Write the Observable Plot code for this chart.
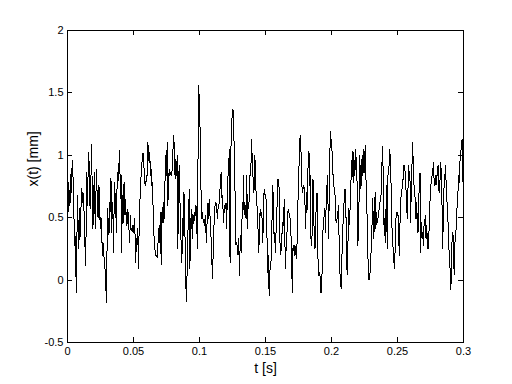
<!DOCTYPE html>
<html>
<head>
<meta charset="utf-8">
<script src="https://cdn.jsdelivr.net/npm/d3@7"></script>
<script src="https://cdn.jsdelivr.net/npm/@observablehq/plot@0.6"></script>
<style>
  html, body { margin: 0; padding: 0; background: #fff; }
  #chart { width: 512px; height: 384px; }
</style>
</head>
<body>
<div id="chart"></div>
<script>
// Displacement samples x(t) in mm, evenly spaced over 0 … 0.3 s
const xValues = [
  // 0 – 0.03 s
  0.42,0.78,0.55,0.72,0.62,0.85,0.70,0.96,0.90,0.60,0.45,0.28,0.35,-0.10,0.30,0.68,0.40,0.25,0.57,0.35,
  0.55,0.73,0.62,0.70,0.68,0.50,0.30,0.12,0.45,0.86,0.60,0.95,1.02,0.65,0.57,0.80,1.09,0.70,0.41,0.60,
  0.86,0.55,0.41,0.89,0.75,0.52,0.50,0.76,0.60,0.41,0.50,0.44,0.20,0.30,0.25,0.14,0.09,
  // 0.03 – 0.06 s
  0.05,-0.18,0.20,0.57,0.45,0.36,0.62,0.55,0.82,0.38,0.62,0.50,0.22,0.78,0.70,0.62,0.38,0.73,0.86,0.80,
  0.94,1.04,0.65,0.84,0.22,0.68,0.46,0.76,0.78,0.52,0.65,0.44,0.45,0.57,0.52,0.40,0.30,0.52,0.41,0.40,
  0.44,0.38,0.41,0.49,0.36,0.14,0.33,0.30,0.41,0.09,0.38,0.62,0.70,0.84,0.92,0.99,1.02,0.92,0.86,0.76,
  // 0.06 – 0.09 s
  0.76,0.84,0.84,1.10,1.05,0.94,1.02,0.84,0.89,0.76,0.78,0.57,0.41,0.25,0.24,0.20,0.20,0.18,0.28,0.33,
  0.44,0.30,0.54,0.12,0.54,0.46,0.62,0.46,0.57,0.86,1.00,0.84,1.10,0.60,0.76,0.89,0.84,0.86,0.84,0.86,
  0.92,1.10,1.16,0.92,0.81,0.97,0.84,1.00,0.25,0.76,0.92,0.62,0.60,0.20,0.14,0.49,0.36,0.70,0.62,0.22,
  // 0.09 – 0.12 s
  -0.05,-0.17,0.14,0.38,0.49,0.73,0.09,0.49,0.41,0.57,0.33,0.52,0.46,0.54,0.52,0.60,0.57,0.25,0.89,1.56,
  1.45,1.27,0.86,0.62,0.49,0.54,0.46,0.49,0.44,0.52,0.38,0.30,0.57,0.62,0.49,0.65,0.52,0.41,0.30,0.12,
  0.01,0.30,0.44,0.57,0.62,0.62,0.60,0.49,0.57,0.60,0.62,0.73,0.84,0.86,0.65,0.68,0.46,0.54,0.60,0.57,
  // 0.12 – 0.15 s
  0.62,0.41,0.73,0.84,0.92,1.05,0.14,0.94,1.24,1.30,1.37,1.36,1.10,1.02,0.30,0.28,0.30,0.25,0.20,0.33,
  0.04,0.25,0.36,0.22,0.52,0.49,0.84,0.52,0.62,0.57,0.49,0.84,0.41,0.62,0.57,0.73,0.86,0.84,1.13,1.00,
  0.89,0.70,0.73,1.00,0.89,0.68,0.62,0.54,0.38,0.22,0.41,0.57,0.52,0.54,0.49,0.30,0.57,0.73,0.70,0.65,
  // 0.15 – 0.18 s
  0.65,0.44,0.06,0.20,-0.05,-0.12,0.14,0.12,0.25,0.57,0.76,0.54,0.30,0.38,0.22,0.44,0.52,0.81,0.81,0.81,
  0.49,0.22,0.20,0.36,0.38,0.46,0.44,0.65,0.30,0.09,0.30,0.36,0.52,0.57,0.54,0.52,0.49,0.38,0.20,-0.10,
  0.25,0.28,0.20,0.28,0.25,0.17,0.28,0.36,0.81,0.89,1.10,1.16,1.05,0.81,0.70,0.73,0.76,0.73,0.62,0.41,
  // 0.18 – 0.21 s
  0.70,0.54,0.84,0.94,1.03,0.76,0.84,0.33,0.28,0.41,0.81,0.52,0.36,0.25,0.46,0.62,0.70,0.30,0.04,0.04,
  0.06,0.01,-0.10,-0.02,0.12,0.41,0.44,0.57,0.54,0.38,0.76,0.70,0.84,0.33,0.57,0.94,1.19,1.13,1.10,0.94,
  0.84,0.76,0.73,0.68,0.49,0.46,0.49,0.52,0.60,0.33,0.06,0.04,-0.07,0.12,0.36,0.46,0.57,0.70,0.73,0.57,
  // 0.21 – 0.24 s
  0.38,0.04,0.17,0.57,0.44,0.54,0.60,0.84,0.92,1.03,0.78,1.02,0.84,0.89,1.05,0.84,0.78,0.28,0.38,0.68,
  1.00,0.73,0.97,0.76,1.00,0.86,1.05,0.86,1.08,0.86,0.65,0.49,0.22,0.01,0.00,0.04,0.12,0.25,0.38,0.65,
  0.52,0.33,0.57,0.70,0.41,0.54,0.46,0.49,0.54,0.57,0.62,0.65,0.70,0.92,1.07,0.84,0.46,0.36,0.57,0.30,
  // 0.24 – 0.27 s
  0.76,0.25,0.84,0.87,0.94,1.05,0.81,0.76,0.44,0.30,0.25,0.14,0.09,0.30,0.49,0.54,0.52,0.54,0.38,0.20,
  0.44,0.65,0.68,0.73,0.76,0.84,0.92,0.92,0.84,0.73,0.60,0.49,0.73,0.92,0.84,0.81,0.46,0.76,0.92,1.10,
  0.89,0.76,0.73,0.60,0.49,0.62,0.46,0.38,0.62,0.78,0.86,0.22,0.46,0.36,0.38,0.28,0.44,0.46,0.52,0.33,
  // 0.27 – 0.30 s
  0.44,0.30,0.25,0.36,0.44,0.65,0.76,0.78,0.84,0.87,0.94,0.81,0.76,0.84,0.76,0.84,0.84,0.92,0.73,0.70,
  0.81,0.94,0.84,0.57,0.25,0.60,0.76,0.81,0.92,0.78,0.68,0.52,0.46,0.30,0.14,0.09,-0.08,0.06,0.36,0.38,
  0.33,0.04,0.28,0.36,0.41,0.54,0.65,0.73,0.84,0.78,1.00,1.02,1.10,1.13,0.97,0.25
];
const tStart = 0;
const tEnd = 0.3;

const xTicks = [0, 0.05, 0.1, 0.15, 0.2, 0.25, 0.3];
const yTicks = [-0.5, 0, 0.5, 1, 1.5, 2];
const xLabel = "t [s]";
const yLabel = "x(t) [mm]";

const n = xValues.length;
const data = xValues.map((v, i) => ({ t: tStart + (tEnd - tStart) * i / (n - 1), x: v }));

const W = 512, H = 384;
const mL = 67, mR = 49, mT = 30, mB = 42;
const plotW = W - mL - mR, plotH = H - mT - mB;
const tick = 5;

const chart = Plot.plot({
  width: W,
  height: H,
  marginLeft: mL,
  marginRight: mR,
  marginTop: mT,
  marginBottom: mB,
  style: { fontFamily: "'Liberation Sans', Arial, Helvetica, sans-serif", fontSize: "11px", background: "#fff", color: "#000" },
  x: { domain: [0, 0.3] },
  y: { domain: [-0.5, 2] },
  marks: [
    Plot.line(data, { x: "t", y: "x", stroke: "#000", strokeWidth: 1, shapeRendering: "crispEdges" }),
    // inward ticks on all four sides
    Plot.ruleX(xTicks, { x: d => d, insetTop: plotH - tick, stroke: "#000", shapeRendering: "crispEdges" }),
    Plot.ruleX(xTicks, { x: d => d, insetBottom: plotH - tick, stroke: "#000", shapeRendering: "crispEdges" }),
    Plot.ruleY(yTicks, { y: d => d, insetRight: plotW - tick, stroke: "#000", shapeRendering: "crispEdges" }),
    Plot.ruleY(yTicks, { y: d => d, insetLeft: plotW - tick, stroke: "#000", shapeRendering: "crispEdges" }),
    Plot.frame({ stroke: "#000", shapeRendering: "crispEdges" }),
    Plot.axisX(xTicks, { tickSize: 0, tickPadding: 5, tickFormat: d => String(d), label: null, fontSize: 11 }),
    Plot.axisY(yTicks, { tickSize: 0, tickPadding: 4, tickFormat: d => String(d), label: null, fontSize: 11 }),
    Plot.text([xLabel], { text: d => d, frameAnchor: "bottom", dy: 26, lineAnchor: "middle", fontSize: 14, fill: "#000" }),
    Plot.text([yLabel], { text: d => d, frameAnchor: "left", dx: -34, rotate: -90, lineAnchor: "middle", fontSize: 14, fill: "#000" })
  ]
});
document.getElementById("chart").appendChild(chart);
</script>
</body>
</html>
